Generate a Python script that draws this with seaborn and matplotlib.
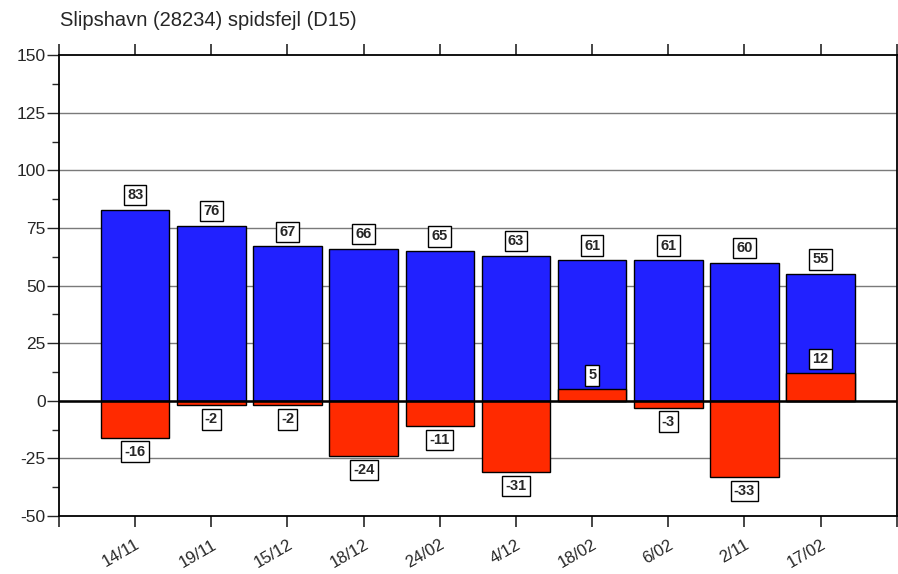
import numpy as np
import matplotlib
matplotlib.use("Agg")
import matplotlib.pyplot as plt
import seaborn as sns
from matplotlib.ticker import MultipleLocator

# --- data ---
dates = ["14/11", "19/11", "15/12", "18/12", "24/02", "4/12", "18/02", "6/02", "2/11", "17/02"]
blue_vals = [83, 76, 67, 66, 65, 63, 61, 61, 60, 55]
red_vals = [-16, -2, -2, -24, -11, -31, 5, -3, -33, 12]
title = "Slipshavn (28234) spidsfejl (D15)"

sns.set_style("white")
plt.rcParams['font.family'] = ['Liberation Sans', 'DejaVu Sans']
plt.rcParams['axes.unicode_minus'] = False

fig = plt.figure(figsize=(8.98, 5.74), dpi=100)
ax = fig.add_axes([0.0657, 0.101, 0.933, 0.803])

# --- bars: blue first, red on top ---
sns.barplot(x=dates, y=blue_vals, order=dates, color="#2121ff", width=0.9,
            edgecolor="black", linewidth=1.0, saturation=1, ax=ax)
sns.barplot(x=dates, y=red_vals, order=dates, color="#ff2a00", width=0.9,
            edgecolor="black", linewidth=1.0, saturation=1, ax=ax)

# --- grid and zero line ---
for yv in range(-25, 150, 25):
    ax.axhline(yv, color="#7a7a7a", lw=1.0, zorder=0)
ax.axhline(0, color="black", lw=1.8, zorder=3)

# --- value labels in boxes ---
box = dict(boxstyle="square,pad=0.22", fc="white", ec="black", lw=1.0)
for i, (b, r) in enumerate(zip(blue_vals, red_vals)):
    ax.annotate(str(b), (i, b), xytext=(0, 10.5), textcoords="offset points",
                ha="center", va="center", fontsize=10.5, fontweight="bold", bbox=box, zorder=5)
    off = 10 if r > 0 else -10
    ax.annotate(str(r), (i, r), xytext=(0, off), textcoords="offset points",
                ha="center", va="center", fontsize=10.5, fontweight="bold", bbox=box, zorder=5)

# --- axes styling ---
ax.set_xlim(-1, 10)
ax.set_ylim(-50, 150)
ax.set_xticks(range(-1, 11))
ax.set_xticklabels([""] + dates + [""], rotation=30, ha="right",
                   rotation_mode="anchor", fontsize=12)
ax.yaxis.set_major_locator(MultipleLocator(25))
ax.yaxis.set_minor_locator(MultipleLocator(12.5))
ax.tick_params(axis="y", which="major", direction="out", length=8.5, width=1.0,
               labelsize=12.5, left=True, right=False, pad=1)
ax.tick_params(axis="y", which="minor", direction="out", length=5, width=1.0, left=True)
ax.tick_params(axis="x", which="major", direction="out", length=8, width=1.2,
               bottom=True, top=True, pad=7)
ax.set_xlabel("")
ax.set_ylabel("")
for s in ax.spines.values():
    s.set_color("black")
    s.set_linewidth(1.3)
    s.set_visible(True)

fig.text(0.067, 0.965, title, fontsize=14.5, ha="left", va="center")

fig.savefig("out.png", dpi=100)
